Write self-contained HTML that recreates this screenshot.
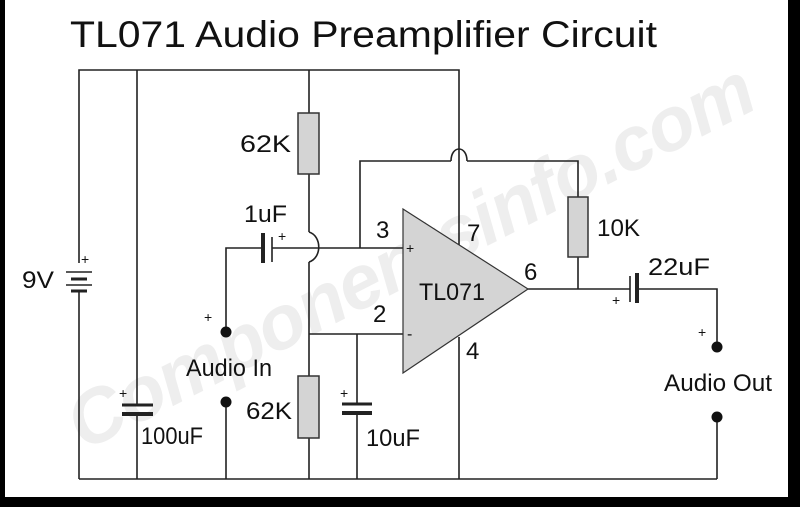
<!DOCTYPE html>
<html><head><style>
html,body{margin:0;padding:0;background:#000;overflow:hidden;}
svg{display:block;}
text{font-family:"Liberation Sans",Arial,sans-serif;fill:#111;}
</style></head><body>
<svg width="800" height="507" viewBox="0 0 800 507" xmlns="http://www.w3.org/2000/svg">
<rect x="0" y="0" width="800" height="507" fill="#000"/>
<rect x="5" y="0" width="783" height="497" fill="#fff"/>
<text x="410" y="282" font-size="76" font-weight="bold" font-style="italic" style="fill:#eeeeee" text-anchor="middle" textLength="760" transform="rotate(-27 410 255)">Componentsinfo.com</text>
<text x="70" y="47" font-size="37" textLength="587" lengthAdjust="spacingAndGlyphs">TL071 Audio Preamplifier Circuit</text>
<g stroke="#222" stroke-width="1.6" fill="none">
<polyline points="79,263 79,70 459,70 459,245"/>
<line x1="79" y1="290" x2="79" y2="479"/>
<line x1="79" y1="479" x2="717" y2="479"/>
<line x1="137" y1="70" x2="137" y2="405"/>
<line x1="137" y1="414" x2="137" y2="479"/>
<line x1="309" y1="70" x2="309" y2="113"/>
<polyline points="309,174 309,232"/>
<path d="M309,232 C322,236 322,258 309,262"/>
<line x1="309" y1="262" x2="309" y2="376"/>
<line x1="309" y1="438" x2="309" y2="479"/>
<polyline points="360,248 360,161 451,161"/>
<path d="M451,161 C451,145 467,145 467,161"/>
<polyline points="467,161 578,161 578,197"/>
<line x1="578" y1="257" x2="578" y2="289"/>
<polyline points="226,332 226,248 263,248"/>
<line x1="272" y1="248" x2="403" y2="248"/>
<line x1="226" y1="402" x2="226" y2="479"/>
<line x1="309" y1="334" x2="403" y2="334"/>
<line x1="357" y1="334" x2="357" y2="404"/>
<line x1="357" y1="413" x2="357" y2="479"/>
<line x1="459" y1="337" x2="459" y2="479"/>
<line x1="528" y1="289" x2="630" y2="289"/>
<polyline points="638,289 717,289 717,347"/>
<line x1="717" y1="417" x2="717" y2="479"/>
</g>
<polygon points="403,209 528,289 403,373" fill="#d4d4d4" stroke="#333" stroke-width="1.2"/>
<rect x="298" y="113" width="21" height="61" fill="#d4d4d4" stroke="#333" stroke-width="1.5"/>
<rect x="298" y="376" width="21" height="62" fill="#d4d4d4" stroke="#333" stroke-width="1.5"/>
<rect x="568" y="197" width="20" height="60" fill="#d4d4d4" stroke="#333" stroke-width="1.5"/>
<g stroke="#222">
<line x1="66" y1="272" x2="92" y2="272" stroke-width="1.6"/>
<line x1="71" y1="279" x2="87" y2="279" stroke-width="3"/>
<line x1="66" y1="285" x2="92" y2="285" stroke-width="1.6"/>
<line x1="71" y1="291" x2="87" y2="291" stroke-width="3"/>
<line x1="263" y1="233" x2="263" y2="263" stroke-width="4"/>
<line x1="272" y1="237" x2="272" y2="262" stroke-width="1.6"/>
<line x1="122" y1="405" x2="153" y2="405" stroke-width="3"/>
<line x1="122" y1="414" x2="153" y2="414" stroke-width="4"/>
<line x1="342" y1="404" x2="372" y2="404" stroke-width="3"/>
<line x1="342" y1="413" x2="372" y2="413" stroke-width="4"/>
<line x1="630" y1="276" x2="630" y2="302" stroke-width="1.6"/>
<line x1="637" y1="273" x2="637" y2="303" stroke-width="4"/>
</g>
<g fill="#111">
<circle cx="226" cy="332" r="5.5"/>
<circle cx="226" cy="402" r="5.5"/>
<circle cx="717" cy="347" r="5.5"/>
<circle cx="717" cy="417" r="5.5"/>
</g>
<g font-size="14">
<text x="81" y="264">+</text>
<text x="204" y="322">+</text>
<text x="278" y="241">+</text>
<text x="119" y="398">+</text>
<text x="340" y="398">+</text>
<text x="612" y="305">+</text>
<text x="698" y="337">+</text>
<text x="406" y="253">+</text>
<text x="407" y="339" font-size="16">-</text>
</g>
<g font-size="24">
<text x="22" y="288" textLength="32" lengthAdjust="spacingAndGlyphs">9V</text>
<text x="240" y="152" textLength="51" lengthAdjust="spacingAndGlyphs">62K</text>
<text x="246" y="419" textLength="46" lengthAdjust="spacingAndGlyphs">62K</text>
<text x="244" y="222" textLength="43" lengthAdjust="spacingAndGlyphs">1uF</text>
<text x="376" y="238">3</text>
<text x="467" y="241">7</text>
<text x="373" y="322">2</text>
<text x="466" y="359">4</text>
<text x="524" y="280">6</text>
<text x="419" y="300" textLength="66" lengthAdjust="spacingAndGlyphs">TL071</text>
<text x="597" y="236" textLength="43" lengthAdjust="spacingAndGlyphs">10K</text>
<text x="648" y="275" textLength="62" lengthAdjust="spacingAndGlyphs">22uF</text>
<text x="186" y="376" textLength="86" lengthAdjust="spacingAndGlyphs">Audio In</text>
<text x="664" y="391" textLength="108" lengthAdjust="spacingAndGlyphs">Audio Out</text>
<text x="141" y="444" textLength="62" lengthAdjust="spacingAndGlyphs">100uF</text>
<text x="366" y="446" textLength="54" lengthAdjust="spacingAndGlyphs">10uF</text>
</g>
</svg>
</body></html>
